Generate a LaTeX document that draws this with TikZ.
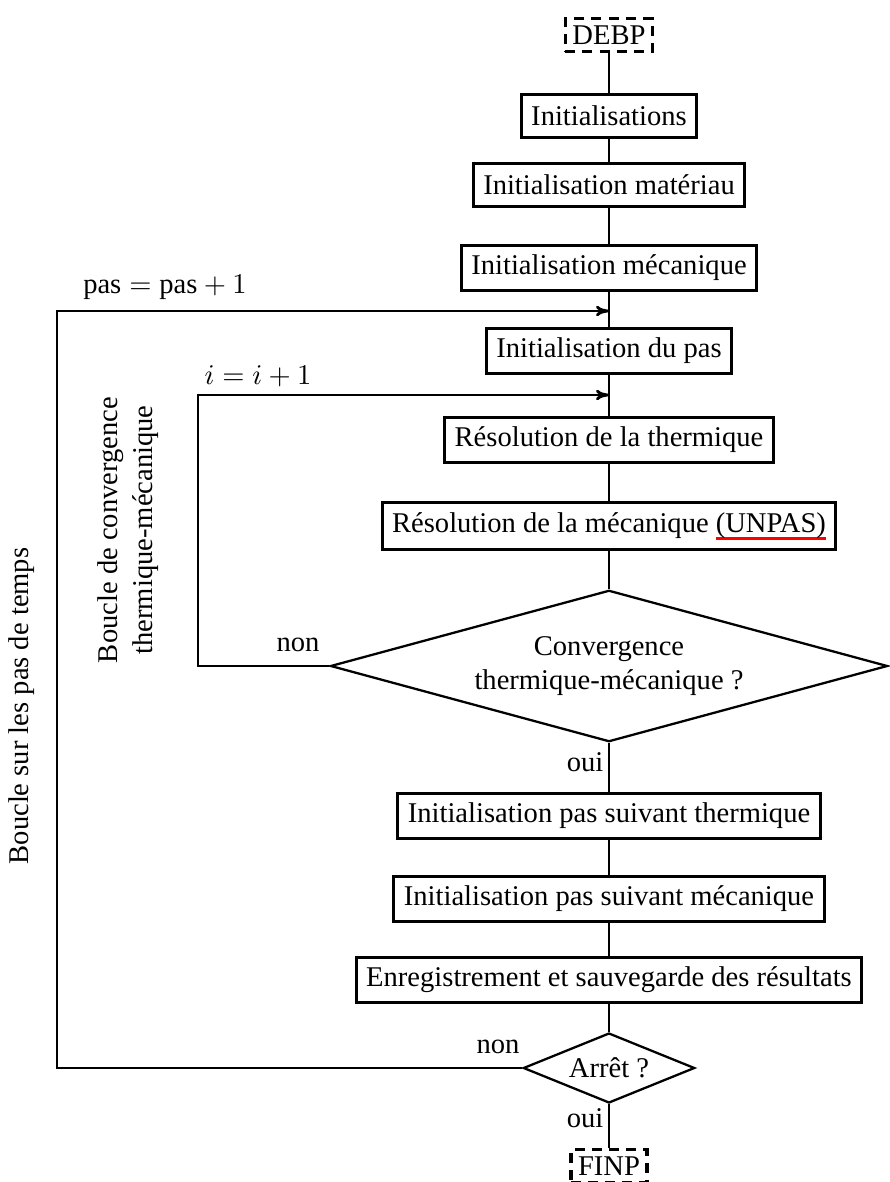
\documentclass[tikz,border=0pt]{standalone}
\usepackage{amsmath}
\usepackage{fontspec}
\setmainfont{Liberation Serif}
\usepackage{tikz}
\usetikzlibrary{arrows.meta,positioning,calc,shapes.geometric}
\newcommand{\redul}[1]{\setbox0\hbox{#1}\rlap{\color{red}\rule[-2.6pt]{\wd0}{0.9pt}}\box0}
\tikzset{
  >={To[length=1.6mm,width=1.3mm]},
  % organigramme
  bloc/.style={rectangle,draw=black,line width=1pt,fill=white,inner xsep=3.5pt,
               minimum height=15pt,font=\normalsize},
  borne/.style={rectangle,draw=black,line width=1.2pt,dash pattern=on 3.5pt off 2.5pt,
                inner xsep=2.5pt,minimum height=11.5pt,inner ysep=1pt},
  test/.style={diamond,draw=black,line width=0.8pt,fill=white,inner sep=0pt,align=center},
  lien/.style={draw=black,line width=1pt},
  boucle/.style={->,draw=black,line width=1pt},
  etiq/.style={font=\normalsize,inner sep=1pt},
}
\begin{document}
\begin{tikzpicture}[x=0.35pt,y=-0.35pt]
\useasboundingbox (0,0) rectangle (890,1182);
  \node[borne] (debp) at (609,35) {DEBP};
  \node[bloc] (init) at (609,116) {Initialisations};
  \node[bloc] (mat) at (609,185) {Initialisation matériau};
  \node[bloc] (meca) at (609,268) {Initialisation mécanique};
  \node[bloc] (pas) at (609,351) {Initialisation du pas};
  \node[bloc] (ther) at (609,440) {Résolution de la thermique};
  \node[bloc] (unpas) at (609,526) {Résolution de la mécanique \redul{(UNPAS)}};
  \node[test,aspect=3.67,minimum width=195pt,minimum height=53pt] (conv) at (609,666)
    {Convergence\\thermique-mécanique ?};
  \node[bloc] (suivt) at (609,816) {Initialisation pas suivant thermique};
  \node[bloc] (suivm) at (609,899) {Initialisation pas suivant mécanique};
  \node[bloc] (enreg) at (609,980) {Enregistrement et sauvegarde des résultats};
  \node[test,aspect=2.46,minimum width=60pt,minimum height=24.5pt] (arret) at (609,1068) {Arrêt ?};
  \node[borne] (finp) at (609,1166) {FINP};
  % chaine principale
  \draw[lien] (debp) -- (init) -- (mat) -- (meca) -- (pas) -- (ther) -- (unpas)
    -- (conv) -- (suivt) -- (suivm) -- (enreg) -- (arret) -- (finp);
  % boucles
  \coordinate (pasin) at (609,311);
  \coordinate (pascoin) at (57,311);
  \coordinate (iin) at (609,395);
  \coordinate (icoin) at (198,395);
  \draw[boucle] (arret.west) -| (pascoin) -- (pasin);
  \draw[boucle] (conv.west) -| (icoin) -- (iin);
  \node[etiq] (lpas) at (165,287) {$\mathrm{pas}=\mathrm{pas}+1$};
  \node[etiq] (li) at (258,376) {$i=i+1$};
  \node[etiq] (non1) at (298,645) {non};
  \node[etiq] (oui1) at (585,762) {oui};
  \node[etiq] (non2) at (498,1047) {non};
  \node[etiq] (oui2) at (585,1118) {oui};
  \node[etiq,rotate=90] (bpas) at (22,706) {Boucle sur les pas de temps};
  \node[etiq,rotate=90,align=center] (bconv) at (128,530)
    {Boucle de convergence\\thermique-mécanique};
\end{tikzpicture}
\end{document}
